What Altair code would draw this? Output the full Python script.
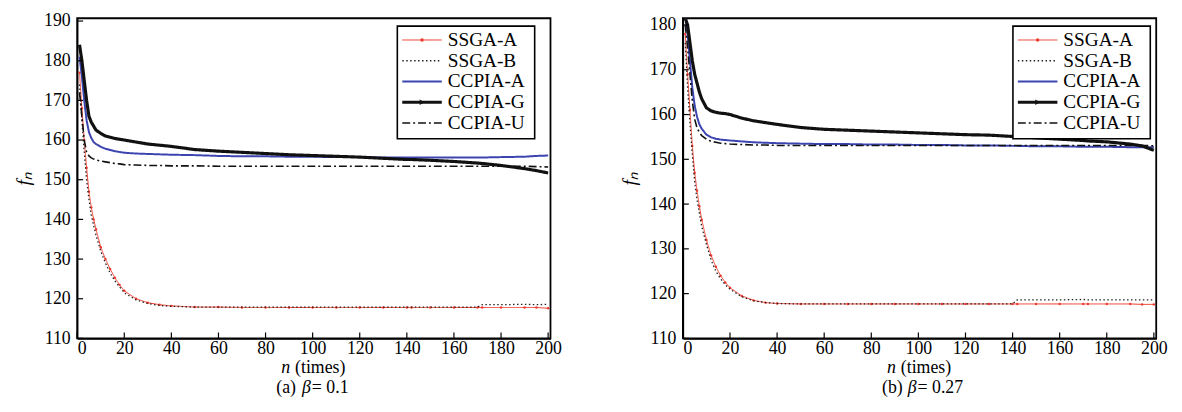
import altair as alt
import pandas as pd

# ---------------- data ----------------
N = [1, 2, 3, 4, 5, 6, 7, 8, 10, 12, 14, 16, 18, 20, 25, 30, 35, 40, 50, 60, 70, 80,
     90, 100, 110, 120, 130, 140, 142, 150, 160, 170, 172, 180, 190, 195, 200]
SERIES = ["SSGA-A", "SSGA-B", "CCPIA-A", "CCPIA-G", "CCPIA-U"]

# panel (a) beta = 0.1
A_SSGA_A = [177, 168, 160, 153, 147, 143, 140, 137.5, 133, 130, 127.5, 125.3, 123.5, 122, 120, 119, 118.5, 118.2,
            117.9, 117.9, 117.8, 117.8, 117.8, 117.8, 117.8, 117.8, 117.8, 117.8, 117.8, 117.8, 117.8, 117.8,
            117.8, 117.8, 117.8, 117.8, 117.6]
A_SSGA_B = [174, 165, 157, 150, 145, 141, 138.5, 136, 132, 129, 126.5, 124.5, 123, 121.5, 119.7, 118.8, 118.3, 118.1,
            117.9, 117.9, 117.9, 117.9, 117.9, 117.9, 117.9, 117.9, 117.9, 117.9, 117.9, 117.9, 117.9, 117.9,
            118.5, 118.5, 118.6, 118.5, 118.6]
A_CCPIA_A = [181, 176, 170, 165, 162, 160.5, 159.5, 159, 158.3, 157.8, 157.5, 157.2, 157, 156.8, 156.6, 156.5, 156.4,
             156.3, 156.2, 156, 155.9, 155.9, 155.8, 155.8, 155.7, 155.7, 155.6, 155.6, 155.6, 155.6, 155.6, 155.6,
             155.6, 155.7, 155.8, 156, 156.1]
A_CCPIA_G = [184, 180, 175, 170, 166, 164.5, 163.5, 162.5, 161.7, 161, 160.7, 160.4, 160.2, 160, 159.5, 159, 158.7,
             158.4, 157.6, 157.2, 156.9, 156.6, 156.3, 156.1, 155.9, 155.7, 155.4, 155.1, 155.1, 154.9, 154.6, 154.2,
             154.1, 153.6, 152.8, 152.3, 151.7]
A_CCPIA_U = [172, 166, 160, 157, 156, 155.5, 155.2, 155, 154.7, 154.5, 154.3, 154.1, 154, 153.8, 153.7, 153.6, 153.6,
             153.5, 153.5, 153.4, 153.4, 153.4, 153.4, 153.4, 153.4, 153.4, 153.4, 153.4, 153.4, 153.4, 153.4, 153.4,
             153.4, 153.4, 153.4, 153.3, 153.2]

# panel (b) beta = 0.27
B_SSGA_A = [178, 169, 161, 153, 147, 143, 139.5, 136.5, 132, 128.5, 126, 124, 122.5, 121.3, 119.5, 118.5, 118, 117.8,
            117.7, 117.7, 117.7, 117.7, 117.7, 117.7, 117.7, 117.7, 117.7, 117.7, 117.7, 117.7, 117.7, 117.7,
            117.7, 117.7, 117.7, 117.6, 117.6]
B_SSGA_B = [176, 166, 158, 151, 145, 141, 138, 135, 131, 127.5, 125, 123.3, 122, 121, 119.3, 118.4, 118, 117.8,
            117.7, 117.7, 117.7, 117.7, 117.7, 117.7, 117.7, 117.7, 117.7, 117.7, 118.6, 118.6, 118.6, 118.7,
            118.6, 118.6, 118.6, 118.6, 118.6]
B_CCPIA_A = [182, 178, 172, 166, 162, 159.5, 157.8, 156.8, 155.5, 154.9, 154.6, 154.4, 154.3, 154.2, 154, 153.8,
             153.7, 153.6, 153.5, 153.4, 153.4, 153.3, 153.3, 153.2, 153.2, 153.1, 153.1, 153, 153, 152.9, 152.9,
             152.8, 152.8, 152.8, 152.7, 152.7, 152.7]
B_CCPIA_G = [181.5, 180, 176, 172, 169, 167, 165, 163.5, 161.5, 160.8, 160.5, 160.3, 160.2, 160, 159.2, 158.6, 158.2,
             157.8, 157.1, 156.7, 156.5, 156.3, 156.1, 155.9, 155.7, 155.5, 155.4, 155.1, 155.1, 154.8, 154.5, 154.2,
             154.1, 153.9, 153.4, 153, 152]
B_CCPIA_U = [180, 175, 169, 163, 159, 157, 156, 155.3, 154.5, 154, 153.8, 153.6, 153.5, 153.4, 153.3, 153.2, 153.2,
             153.1, 153.1, 153.1, 153.1, 153.1, 153.1, 153.1, 153.1, 153.1, 153.1, 153.1, 153.1, 153.1, 153.1, 153.1,
             153.1, 153.1, 153.1, 153.1, 153.0]

X_TICKS = [0, 20, 40, 60, 80, 100, 120, 140, 160, 180, 200]
Y_TICKS_A = [110, 120, 130, 140, 150, 160, 170, 180, 190]
Y_TICKS_B = [110, 120, 130, 140, 150, 160, 170, 180]
CAPTIONS = [("(a) ", "0.1"), ("(b) ", "0.27")]

# ---------------- styles ----------------
FONT = "Liberation Serif"
W, H = 479, 324
STYLE = {
    "SSGA-A": dict(color="#ee3a2c", width=1.0, dash=[1, 0]),
    "SSGA-B": dict(color="#222222", width=1.3, dash=[1.5, 2.5]),
    "CCPIA-A": dict(color="#3c44b0", width=2.0, dash=[1, 0]),
    "CCPIA-G": dict(color="#111111", width=3.2, dash=[1, 0]),
    "CCPIA-U": dict(color="#111111", width=1.6, dash=[8, 3, 2, 3]),
}
ONE = pd.DataFrame({"k": [0]})
AX = dict(labelFont=FONT, labelFontSize=18, labelColor="black", domainColor="black", domainWidth=1.5,
          grid=False, ticks=False, tickSize=0)


def panel(vals, ydom, yticks, cap, legend_x):
    rows = []
    for s, v in zip(SERIES, vals):
        for n, f in zip(N, v):
            rows.append({"series": s, "n": n, "f": f})
    df = pd.DataFrame(rows)

    x = alt.X("n:Q", scale=alt.Scale(domain=[0, 201], nice=False),
              axis=alt.Axis(values=X_TICKS, title=None, labelPadding=1, **AX))
    y = alt.Y("f:Q", scale=alt.Scale(domain=ydom, nice=False, zero=False),
              axis=alt.Axis(values=yticks, title="fₙ", titleFont=FONT, titleFontSize=20, titleColor="black",
                            titleFontStyle="italic", titleFontWeight="normal", titlePadding=10,
                            labelPadding=7, **AX))

    layers = []
    for s in SERIES:
        st = STYLE[s]
        layers.append(
            alt.Chart(df[df.series == s]).mark_line(
                color=st["color"], strokeWidth=st["width"], strokeDash=st["dash"], clip=True
            ).encode(x=x, y=y)
        )
        if s == "SSGA-A":
            layers.append(
                alt.Chart(df[df.series == s]).mark_point(
                    filled=True, color=st["color"], size=6, opacity=1, clip=True
                ).encode(x=x, y=y)
            )

    # inward ticks
    layers.append(alt.Chart(pd.DataFrame({"f": yticks})).mark_rule(color="black", strokeWidth=1.2)
                  .encode(y=y, x=alt.value(0), x2=alt.value(6)))
    layers.append(alt.Chart(pd.DataFrame({"n": X_TICKS})).mark_rule(color="black", strokeWidth=1.2)
                  .encode(x=x, y=alt.value(H - 6), y2=alt.value(H)))

    # legend
    lx, ly0, lw, lh, step = legend_x, 8, 139, 114, 21
    layers.append(alt.Chart(ONE).mark_rect(fill="white", stroke="black", strokeWidth=1.6)
                  .encode(x=alt.value(lx), x2=alt.value(lx + lw), y=alt.value(ly0), y2=alt.value(ly0 + lh)))
    for i, s in enumerate(SERIES):
        st = STYLE[s]
        yy = ly0 + 14 + i * step
        layers.append(alt.Chart(ONE).mark_rule(color=st["color"], strokeWidth=st["width"], strokeDash=st["dash"])
                      .encode(x=alt.value(lx + 5), x2=alt.value(lx + 45), y=alt.value(yy)))
        if s == "SSGA-A":
            layers.append(alt.Chart(ONE).mark_point(filled=True, color=st["color"], size=12, opacity=1)
                          .encode(x=alt.value(lx + 25), y=alt.value(yy)))
        if s == "CCPIA-G":
            layers.append(alt.Chart(ONE).mark_point(filled=True, shape="triangle-right", color=st["color"],
                                                    size=30, opacity=1)
                          .encode(x=alt.value(lx + 25), y=alt.value(yy)))
        layers.append(alt.Chart(ONE).mark_text(text=s, align="left", baseline="middle", font=FONT,
                                               fontSize=19.5, color="black")
                      .encode(x=alt.value(lx + 51), y=alt.value(yy)))

    # x-axis title and caption
    cx = W / 2
    ty, cy = H + 30, H + 50
    layers.append(alt.Chart(ONE).mark_text(text="n", align="left", baseline="middle", font=FONT, fontSize=18,
                                           fontStyle="italic", color="black")
                  .encode(x=alt.value(cx - 33), y=alt.value(ty)))
    layers.append(alt.Chart(ONE).mark_text(text="(times)", align="left", baseline="middle", font=FONT,
                                           fontSize=18, color="black")
                  .encode(x=alt.value(cx - 19), y=alt.value(ty)))
    layers.append(alt.Chart(ONE).mark_text(text=cap[0], align="left", baseline="middle", font=FONT,
                                           fontSize=18, color="black")
                  .encode(x=alt.value(cx - 38), y=alt.value(cy)))
    layers.append(alt.Chart(ONE).mark_text(text="β", align="left", baseline="middle", font=FONT,
                                           fontSize=18, fontStyle="italic", color="black")
                  .encode(x=alt.value(cx - 12), y=alt.value(cy)))
    layers.append(alt.Chart(ONE).mark_text(text="= " + cap[1], align="left", baseline="middle", font=FONT,
                                           fontSize=18, color="black")
                  .encode(x=alt.value(cx - 2), y=alt.value(cy)))

    return alt.layer(*layers).properties(width=W, height=H)


left = panel([A_SSGA_A, A_SSGA_B, A_CCPIA_A, A_CCPIA_G, A_CCPIA_U], [110, 190.7], Y_TICKS_A, CAPTIONS[0], 324)
right = panel([B_SSGA_A, B_SSGA_B, B_CCPIA_A, B_CCPIA_G, B_CCPIA_U], [110, 181.5], Y_TICKS_B, CAPTIONS[1], 334)

chart = alt.hconcat(left, right, spacing=56, background="white",
                    padding={"left": 5, "top": 0, "right": 5, "bottom": 5}).configure_view(
    stroke="black", strokeWidth=1.8
)

chart.save("out.html", embed_options={"renderer": "svg", "actions": False})
